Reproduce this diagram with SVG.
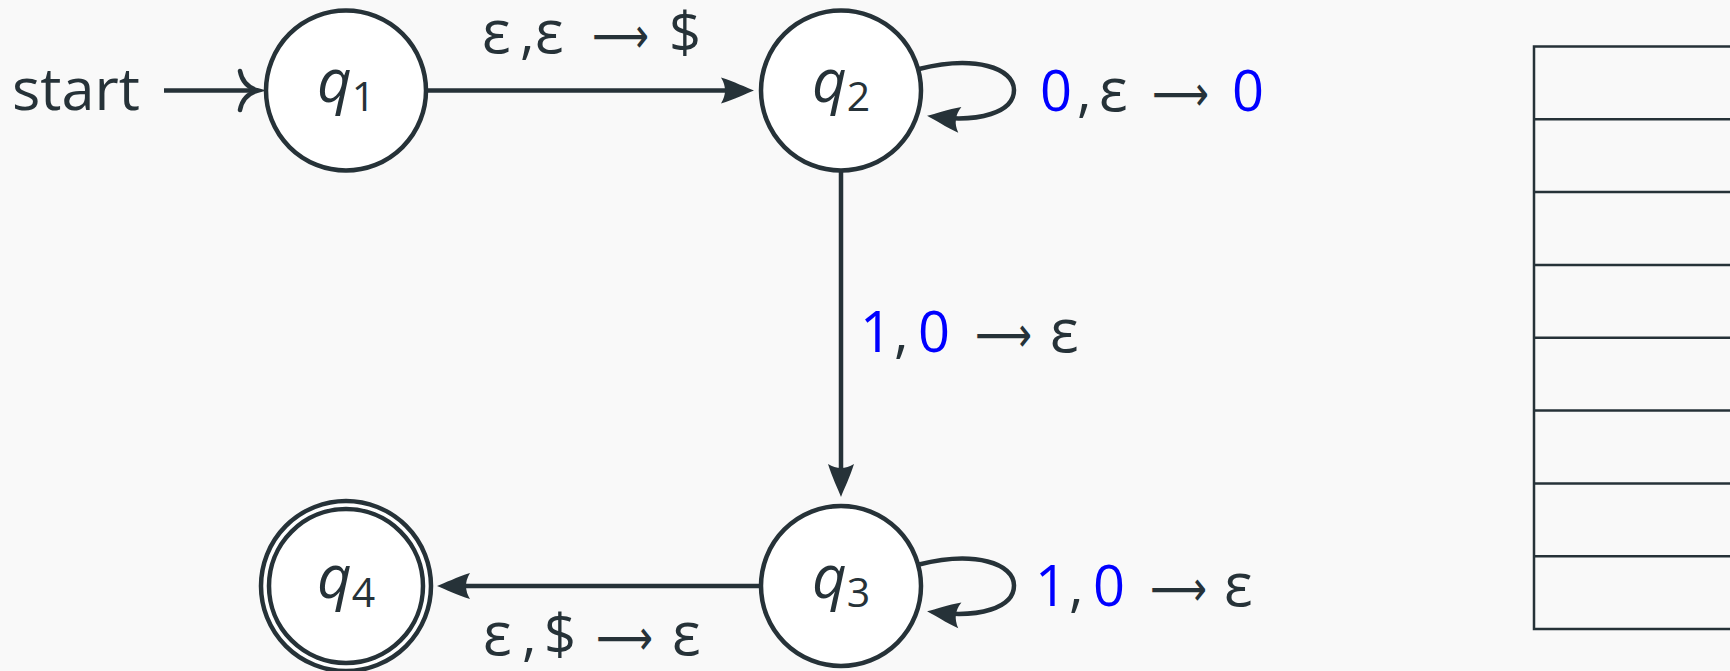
<svg xmlns="http://www.w3.org/2000/svg" width="1730" height="671" viewBox="0 0 1730 671">
  <style>
    .node { fill: #ffffff; stroke: #263238; stroke-width: 4.5; }
    .edge { fill: none; stroke: #263238; stroke-width: 4.5; }
    .stack { fill: none; stroke: #263238; stroke-width: 2.5; }
    .txt { font-family: "Open Sans", "Lato", sans-serif; font-weight: 400; fill: #263238; }
    .q { font-family: "Open Sans", "Lato", sans-serif; font-style: italic; font-weight: 400; font-size: 60px; fill: #263238; }
    .sub { font-style: normal; font-size: 41px; }
    .lbl { font-family: "Open Sans", "Lato", sans-serif; font-weight: 400; font-size: 56px; fill: #263238; }
    .eps { font-size: 60px; }
    .blue { fill: #0000ff; }
    .arr { font-family: "DejaVu Sans", sans-serif; font-weight: normal; font-size: 50px; fill: #263238; }
  </style>
  <defs>
    <marker id="ah" markerUnits="userSpaceOnUse" markerWidth="40" markerHeight="30" refX="0" refY="0" orient="auto" overflow="visible">
      <path d="M 10 0 C 2 -3 -10 -9 -23 -13 Q -15 0 -23 13 C -10 9 2 3 10 0 Z" fill="#263238"/>
    </marker>
  </defs>
  <rect x="0" y="0" width="1730" height="671" fill="#f9f9f9"/>

  <g id="connectors">
    <g id="start-arrow">
      <line class="edge" x1="164" y1="90.5" x2="256" y2="90.5"/>
      <path class="edge" stroke-linecap="round" d="M 240 71 C 242 82 249 88 258 90.5 C 249 93 242 99 240 110"/>
    </g>
    <path id="e-q1-q2" class="edge" d="M 426 90.5 L 744 90.5" marker-end="url(#ah)"/>
    <path id="e-q2-q2" class="edge" d="M 919 69 C 975 55 1014 68 1014 90 C 1014 113 978 122 937 117" marker-end="url(#ah)"/>
    <path id="e-q2-q3" class="edge" d="M 841 170.5 L 841 487" marker-end="url(#ah)"/>
    <path id="e-q3-q3" class="edge" d="M 919 564.5 C 975 550.5 1014 563.5 1014 585.5 C 1014 608.5 978 617.5 937 612.5" marker-end="url(#ah)"/>
    <path id="e-q3-q4" class="edge" d="M 761 586 L 447 586" marker-end="url(#ah)"/>
  </g>

  <g id="start">
    <text class="txt" x="12" y="110" font-size="58" textLength="128" lengthAdjust="spacingAndGlyphs">start</text>
  </g>

  <g id="q1">
    <circle class="node" cx="346" cy="90.5" r="80"/>
    <text class="q" x="317" y="102">q<tspan class="sub" dy="9">1</tspan></text>
  </g>
  <g id="q2">
    <circle class="node" cx="841" cy="90.5" r="80"/>
    <text class="q" x="812" y="102">q<tspan class="sub" dy="9">2</tspan></text>
  </g>
  <g id="q3">
    <circle class="node" cx="841" cy="586" r="80"/>
    <text class="q" x="812" y="597.5">q<tspan class="sub" dy="9">3</tspan></text>
  </g>
  <g id="q4">
    <circle class="node" cx="346" cy="586" r="85"/>
    <circle class="node" cx="346" cy="586" r="77"/>
    <text class="q" x="317" y="597.5">q<tspan class="sub" dy="9">4</tspan></text>
  </g>

  <g id="labels">
    <g id="l-q1-q2">
      <text class="lbl" y="53"><tspan class="eps" x="482">ε</tspan><tspan x="520">,</tspan><tspan class="eps" x="535">ε</tspan><tspan x="669">$</tspan></text>
      <text class="arr" x="592" y="53" textLength="57" lengthAdjust="spacingAndGlyphs">⟶</text>
    </g>
    <g id="l-q2-q2">
      <text class="lbl" y="110.5"><tspan class="blue" x="1040">0</tspan><tspan x="1077">,</tspan><tspan class="eps" x="1099">ε</tspan><tspan class="blue" x="1232">0</tspan></text>
      <text class="arr" x="1152" y="110.5" textLength="57" lengthAdjust="spacingAndGlyphs">⟶</text>
    </g>
    <g id="l-q2-q3">
      <text class="lbl" y="352"><tspan class="blue" x="860">1</tspan><tspan x="894">,</tspan><tspan class="blue" x="918">0</tspan><tspan class="eps" x="1050">ε</tspan></text>
      <text class="arr" x="975" y="352" textLength="57" lengthAdjust="spacingAndGlyphs">⟶</text>
    </g>
    <g id="l-q3-q3">
      <text class="lbl" y="606"><tspan class="blue" x="1035">1</tspan><tspan x="1069">,</tspan><tspan class="blue" x="1093">0</tspan><tspan class="eps" x="1224">ε</tspan></text>
      <text class="arr" x="1150" y="606" textLength="57" lengthAdjust="spacingAndGlyphs">⟶</text>
    </g>
    <g id="l-q3-q4">
      <text class="lbl" y="655"><tspan class="eps" x="483">ε</tspan><tspan x="522">,</tspan><tspan x="544">$</tspan><tspan class="eps" x="672">ε</tspan></text>
      <text class="arr" x="596" y="655" textLength="57" lengthAdjust="spacingAndGlyphs">⟶</text>
    </g>
  </g>

  <g id="stack">
    <rect class="stack" x="1534" y="46.5" width="220" height="582.5"/>
    <line class="stack" x1="1534" y1="119.3" x2="1730" y2="119.3"/>
    <line class="stack" x1="1534" y1="192.1" x2="1730" y2="192.1"/>
    <line class="stack" x1="1534" y1="264.9" x2="1730" y2="264.9"/>
    <line class="stack" x1="1534" y1="337.8" x2="1730" y2="337.8"/>
    <line class="stack" x1="1534" y1="410.6" x2="1730" y2="410.6"/>
    <line class="stack" x1="1534" y1="483.4" x2="1730" y2="483.4"/>
    <line class="stack" x1="1534" y1="556.2" x2="1730" y2="556.2"/>
  </g>
</svg>
